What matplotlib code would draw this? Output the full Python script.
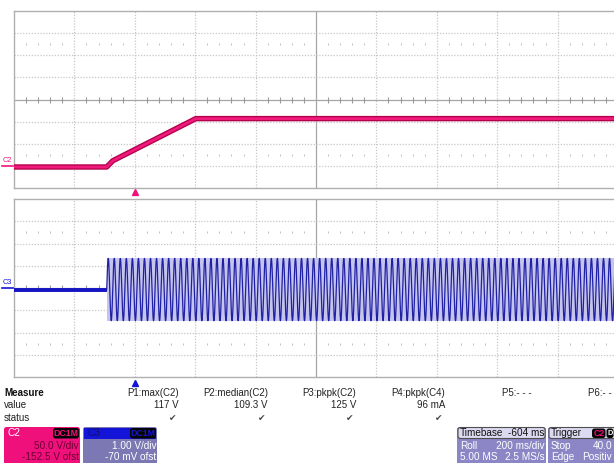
import numpy as np
import matplotlib
matplotlib.use("Agg")
import matplotlib.pyplot as plt
from matplotlib.patches import FancyBboxPatch, Rectangle

# ---- C2: ramped DC voltage (V) ----
c2_time_s = [-0.40, -0.093, -0.073, 0.202, 1.60]
c2_volts = [0.0, 0.0, 14.0, 109.3, 109.3]

# ---- C3: AC signal switched on during the ramp ----
c3_onset_s = -0.093
c3_freq_hz = 50.0
c3_amp_v = 1.4
c3_idle_v = 0.0

# ---- channel / timebase settings ----
c2_vdiv, c2_offset = 50.0, -152.5
c3_vdiv, c3_offset = 1.00, -0.070
time_div = 0.2          # s/div
trigger_div = 2         # trigger position, divisions from the left edge
n_xdiv, n_ydiv = 10, 8

# ---- measurement table ----
meas_names = ["P1:max(C2)", "P2:median(C2)", "P3:pkpk(C2)", "P4:pkpk(C4)", "P5:- - -", "P6:- -"]
meas_values = ["117 V", "109.3 V", "125 V", "96 mA", "", ""]
meas_ok = [True, True, True, True, False, False]

W, H = 614, 463
fig = plt.figure(figsize=(W / 100, H / 100), dpi=100)
fig.patch.set_facecolor("white")
plt.rcParams["font.family"] = ["Liberation Sans", "DejaVu Sans"]


def px_box(left, top, right, bottom):
    return [left / W, 1 - bottom / H, (right - left) / W, (bottom - top) / H]


t_left = -trigger_div * time_div
t_right = t_left + n_xdiv * time_div


def graticule(ax):
    T = ax.transAxes
    grid_c, axis_c = "#c6c6c6", "#a6a6a6"
    for k in range(1, n_xdiv):
        x = k / n_xdiv
        if k == n_xdiv // 2:
            ax.plot([x, x], [0, 1], transform=T, color=axis_c, lw=0.9, zorder=1)
        else:
            ax.plot([x, x], [0, 1], transform=T, color=grid_c, lw=0.9,
                    ls=(0, (1, 1.3)), zorder=1)
    for k in range(1, n_ydiv):
        y = k / n_ydiv
        if k == n_ydiv // 2:
            ax.plot([0, 1], [y, y], transform=T, color=axis_c, lw=0.9, zorder=1)
        else:
            ax.plot([0, 1], [y, y], transform=T, color=grid_c, lw=0.9,
                    ls=(0, (1, 1.3)), zorder=1)
    xs = [i / (5 * n_xdiv) for i in range(1, 5 * n_xdiv) if i % 5]
    ax.plot(xs, [0.5] * len(xs), transform=T, ls="none", marker="|",
            ms=4, mew=0.8, color="#9a9a9a", zorder=1)
    for yy in (0.5 - 2.5 / n_ydiv, 0.5 + 2.5 / n_ydiv):
        ax.plot(xs, [yy] * len(xs), transform=T, ls="none", marker="|",
                ms=2, mew=0.7, color="#c0c0c0", zorder=1)
    for s in ax.spines.values():
        s.set_color("#b0b0b0")
        s.set_linewidth(1.0)
    ax.set_xticks([])
    ax.set_yticks([])


# ---- top panel: C2 ----
ax1 = fig.add_axes(px_box(14, 11, 618, 188))
c2_center = -c2_offset
ax1.set_xlim(t_left, t_right)
ax1.set_ylim(c2_center - n_ydiv / 2 * c2_vdiv, c2_center + n_ydiv / 2 * c2_vdiv)
graticule(ax1)
ax1.plot(c2_time_s, c2_volts, color="#b4004a", lw=3.9, solid_capstyle="butt",
         solid_joinstyle="round", zorder=3)
ax1.plot(c2_time_s, c2_volts, color="#ee1a7c", lw=2.0, solid_capstyle="butt",
         solid_joinstyle="round", zorder=4)

# ---- bottom panel: C3 ----
ax2 = fig.add_axes(px_box(14, 199, 618, 377))
c3_center = -c3_offset
ax2.set_xlim(t_left, t_right)
ax2.set_ylim(c3_center - n_ydiv / 2 * c3_vdiv, c3_center + n_ydiv / 2 * c3_vdiv)
graticule(ax2)
ax2.plot([t_left, c3_onset_s], [c3_idle_v, c3_idle_v], color="#1414c4",
         lw=2.8, solid_capstyle="butt", zorder=3)
t_ac = np.linspace(c3_onset_s, t_right, 40000)
v_ac = c3_idle_v + c3_amp_v * np.sin(2 * np.pi * c3_freq_hz * (t_ac - c3_onset_s))
ax2.fill_between([c3_onset_s, t_right], c3_idle_v - c3_amp_v, c3_idle_v + c3_amp_v,
                 color="#c4c4ec", lw=0, zorder=2)
ax2.plot(t_ac, v_ac, color="#2020a4", lw=0.9, zorder=3)

# ---- overlay in pixel coordinates for labels and status boxes ----
ov = fig.add_axes([0, 0, 1, 1], zorder=10)
ov.set_xlim(0, W)
ov.set_ylim(H, 0)
ov.axis("off")
ov.patch.set_alpha(0)

pink, blue = "#f0107c", "#1414d8"

# trace labels at the left edge
ov.text(3, 161, "C2", color=pink, fontsize=5.3, va="center", ha="left")
ov.plot([2, 13], [166, 166], color=pink, lw=1.2)
ov.text(3, 283, "C3", color=blue, fontsize=5.3, va="center", ha="left")
ov.plot([2, 13], [288, 288], color=blue, lw=1.2)

# trigger position markers
trig_x = 14 + trigger_div * 604 / n_xdiv
ov.plot([trig_x], [191.5], marker="^", ms=4.5, color=pink, mec=pink)
ov.plot([trig_x], [383], marker="^", ms=4.5, color=blue, mec=blue)

# measurement table
fs = 7.0
ov.text(4, 393, "Measure", fontsize=fs, fontweight="bold", va="center", color="#111111")
ov.text(4, 405.5, "value", fontsize=fs, va="center", color="#222222")
ov.text(4, 418, "status", fontsize=fs, va="center", color="#222222")
col_right = [179, 268, 356, 445, 532, 612]
for name, val, ok, xr in zip(meas_names, meas_values, meas_ok, col_right):
    ov.text(xr, 393, name, fontsize=fs, ha="right", va="center", color="#222222")
    if val:
        ov.text(xr, 405.5, val, fontsize=fs, ha="right", va="center", color="#222222")
    if ok:
        ov.text(xr - 3, 418.5, "\u2714", fontsize=6.5, ha="right", va="center",
                color="#4a4a4a", family="DejaVu Sans")


def box(x0, y0, x1, y1, fc, ec="none"):
    p = FancyBboxPatch((x0, y0), x1 - x0, y1 - y0,
                       boxstyle="round,pad=0,rounding_size=2.5",
                       fc=fc, ec=ec, lw=0.8)
    ov.add_patch(p)


def badge(x0, y0, x1, y1, txt, tc, fsize=6.3):
    box(x0, y0, x1, y1, "#050505")
    ov.text((x0 + x1) / 2, (y0 + y1) / 2 + 0.3, txt, fontsize=fsize, color=tc,
            ha="center", va="center", fontweight="bold")


bfs = 7.2
# C2 channel box
box(4, 427, 80, 470, pink)
ov.text(8, 433, "C2", fontsize=bfs, color="white", va="center")
badge(53, 428, 79, 438.5, "DC1M", pink)
ov.text(79, 446, "50.0 V/div", fontsize=bfs, color="#6a0030", ha="right", va="center")
ov.text(79, 457.5, "-152.5 V ofst", fontsize=bfs, color="#6a0030", ha="right", va="center")

# C3 channel box
box(83, 427, 157, 470, "#7b78b4")
ov.add_patch(Rectangle((84, 427.5), 72, 11, fc=blue, ec="none"))
ov.text(87, 433, "C3", fontsize=bfs, color="#101060", va="center")
badge(130, 428, 156, 438.5, "DC1M", blue)
ov.text(156, 446, "1.00 V/div", fontsize=bfs, color="white", ha="right", va="center")
ov.text(156, 457.5, "-70 mV ofst", fontsize=bfs, color="white", ha="right", va="center")

# Timebase box
box(457, 427, 546, 470, "#8c86c6")
box(458, 427.5, 545, 438.5, "#dcdaf0", ec="#505050")
ov.text(460, 433, "Timebase", fontsize=bfs, color="#111111", va="center")
ov.text(544, 433, "-604 ms", fontsize=bfs, color="#111111", va="center", ha="right")
ov.text(460, 446, "Roll", fontsize=bfs, color="white", va="center")
ov.text(545, 446, "200 ms/div", fontsize=bfs, color="white", va="center", ha="right")
ov.text(460, 457.5, "5.00 MS", fontsize=bfs, color="white", va="center")
ov.text(545, 457.5, "2.5 MS/s", fontsize=bfs, color="white", va="center", ha="right")

# Trigger box
box(548, 427, 640, 470, "#8c86c6")
box(549, 427.5, 640, 438.5, "#dcdaf0", ec="#505050")
ov.text(551, 433, "Trigger", fontsize=bfs, color="#111111", va="center")
badge(592, 428.5, 605.5, 438, "C2", pink)
badge(606.5, 428.5, 613.5, 438, "D", "white", fsize=5.3)
ov.text(612, 446, "40.0", fontsize=bfs, color="white", va="center", ha="right")
ov.text(551, 446, "Stop", fontsize=bfs, color="white", va="center")
ov.text(551, 457.5, "Edge", fontsize=bfs, color="white", va="center")
ov.text(612, 457.5, "Positiv", fontsize=bfs, color="white", va="center", ha="right")

fig.savefig("out.png", dpi=100)
